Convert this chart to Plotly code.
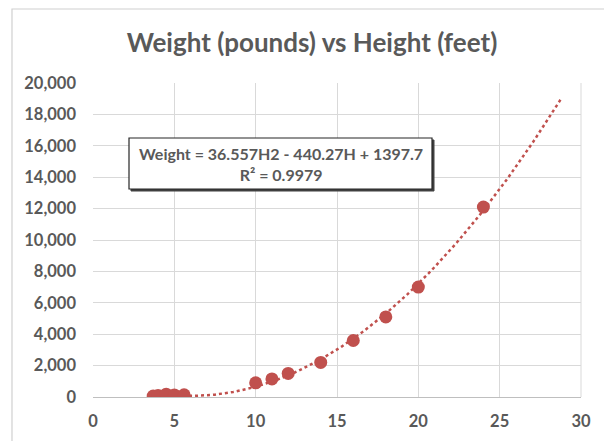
import numpy as np
import plotly.graph_objects as go

# Data
height_ft = [3.7, 4.0, 4.5, 5.0, 5.6, 10, 11, 12, 14, 16, 18, 20, 24]
weight_lb = [60, 90, 180, 130, 140, 900, 1150, 1500, 2200, 3600, 5100, 7000, 12100]

# Trendline coefficients as shown in the chart label
coef_a, coef_b, coef_c = 36.557, -440.27, 1397.7
trend_start, trend_end = 3.7, 28.8

x_ticks = [0, 5, 10, 15, 20, 25, 30]
y_ticks = list(range(0, 20001, 2000))

title_text = "Weight (pounds) vs Height (feet)"
eq_text = "Weight = 36.557H2 - 440.27H + 1397.7<br>R² = 0.9979"

red = "#C0504D"
gray_text = "#595959"
grid = "#D9D9D9"
font_family = "Lato, 'Open Sans', sans-serif"

tx = np.linspace(trend_start, trend_end, 200)
ty = coef_a * tx**2 + coef_b * tx + coef_c

fig = go.Figure()
fig.add_trace(go.Scatter(x=tx, y=ty, mode="lines",
                         line=dict(color=red, width=2.5, dash="dot"),
                         hoverinfo="skip", showlegend=False))
fig.add_trace(go.Scatter(x=height_ft, y=weight_lb, mode="markers",
                         marker=dict(color=red, size=13),
                         showlegend=False))

# page offset (body margin) compensation
OFF = 8
FW, FH = 612 - OFF, 441 - OFF
# target pixel positions in the page, converted to figure coords
L, R, T, B = 93 - OFF, 581 - OFF, 83 - OFF, 397 - OFF
W, H = R - L, B - T
def px(x):
    return (x - OFF - L) / W
def py(y):
    return (B - (y - OFF)) / H

fig.update_layout(
    width=FW, height=FH,
    margin=dict(l=L, r=FW - R, t=T, b=FH - B, autoexpand=False),
    paper_bgcolor="white", plot_bgcolor="white",
    font=dict(family=font_family, color=gray_text),
    title=dict(text="<b>" + title_text + "</b>", x=(312 - OFF) / FW,
               xanchor="center", xref="container",
               y=1 - (43 - OFF) / FH, yanchor="middle",
               font=dict(size=26, color=gray_text, family=font_family)),
    xaxis=dict(range=[0, 30], tickvals=x_ticks, showgrid=True, gridcolor=grid,
               gridwidth=1, zeroline=False, showline=True, linecolor="#BFBFBF",
               linewidth=1, ticks="",
               tickfont=dict(size=16.5, color=gray_text, weight="bold"),
               ticklabelstandoff=9),
    yaxis=dict(range=[0, 20000], tickvals=y_ticks, showgrid=True, gridcolor=grid,
               gridwidth=1, zeroline=False, showline=False, ticks="",
               tickformat=",",
               tickfont=dict(size=16.5, color=gray_text, weight="bold"),
               ticklabelstandoff=16),
    shapes=[
        # chart outer border
        dict(type="rect", xref="paper", yref="paper",
             x0=px(12), x1=px(610.5), y0=py(450), y1=py(9),
             line=dict(color="#D0D0D0", width=1.2), fillcolor="rgba(0,0,0,0)"),
        # right gridline at 30 / border
        dict(type="line", xref="paper", yref="paper", x0=1, x1=1, y0=0, y1=1,
             line=dict(color=grid, width=1)),
        # label box shadow
        dict(type="rect", xref="paper", yref="paper",
             x0=px(131), x1=px(434), y0=py(191), y1=py(140),
             line=dict(color="#404040", width=1), fillcolor="#404040"),
        # label box
        dict(type="rect", xref="paper", yref="paper",
             x0=px(129), x1=px(432), y0=py(189), y1=py(138),
             line=dict(color="#262626", width=1.2), fillcolor="white"),
    ],
    annotations=[
        dict(text="<b>" + eq_text + "</b>", xref="paper", yref="paper",
             x=px(280.5), y=py(164), xanchor="center", yanchor="middle",
             showarrow=False, align="center",
             font=dict(size=16, color=gray_text, family=font_family)),
    ],
)

fig.write_html("out.html")
